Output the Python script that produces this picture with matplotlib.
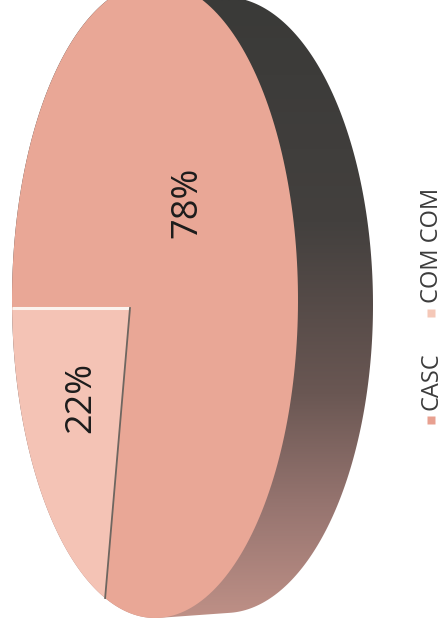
import matplotlib as mpl
mpl.use('agg')

import matplotlib.pyplot as plt
from matplotlib.colors import LinearSegmentedColormap
from matplotlib.patches import Polygon
import numpy as np

# chart data
labels = ['COM COM', 'CASC']
values = [22, 78]
face_colors = ['#f4c3b5', '#e9a796']
legend_order = ['CASC', 'COM COM']
legend_colors = ['#e8a090', '#f5c8b8']

# layout (pixels, y pointing down)
W, H = 443, 635
front = dict(cx=155, cy=300, rx=143, ry=318)
back = dict(cx=225, cy=305, rx=148, ry=308)
vertex = np.array([130.0, 308.0])
start_angle = 180.0


def ellipse_pts(e, t):
    return np.column_stack([e['cx'] + e['rx'] * np.cos(t), e['cy'] - e['ry'] * np.sin(t)])


def hull(pts):
    """ monotone chain convex hull """
    pts = sorted(map(tuple, pts))

    def cross(o, a, b):
        return (a[0] - o[0]) * (b[1] - o[1]) - (a[1] - o[1]) * (b[0] - o[0])

    lower, upper = [], []
    for p in pts:
        while len(lower) >= 2 and cross(lower[-2], lower[-1], p) <= 0:
            lower.pop()
        lower.append(p)
    for p in reversed(pts):
        while len(upper) >= 2 and cross(upper[-2], upper[-1], p) <= 0:
            upper.pop()
        upper.append(p)
    return np.array(lower[:-1] + upper[:-1])


def ray_hit(angle_deg):
    """ where a ray from the vertex (in the squashed pie space) meets the rim """
    a = np.radians(angle_deg)
    d = np.array([np.cos(a) * front['rx'], -np.sin(a) * front['ry']])
    p = vertex - np.array([front['cx'], front['cy']])
    A = (d[0] / front['rx']) ** 2 + (d[1] / front['ry']) ** 2
    B = 2 * (p[0] * d[0] / front['rx'] ** 2 + p[1] * d[1] / front['ry'] ** 2)
    C = (p[0] / front['rx']) ** 2 + (p[1] / front['ry']) ** 2 - 1
    t = (-B + np.sqrt(B * B - 4 * A * C)) / (2 * A)
    q = vertex + t * d
    param = np.degrees(np.arctan2(-(q[1] - front['cy']) / front['ry'],
                                  (q[0] - front['cx']) / front['rx']))
    return q, param


fig = plt.figure(figsize=(W / 100, H / 100), dpi=100)
ax = fig.add_axes([0, 0, 1, 1])

# side of the disc: convex hull of front and back rims, filled with a vertical gradient
t = np.linspace(0, 2 * np.pi, 400)
side = hull(np.vstack([ellipse_pts(front, t), ellipse_pts(back, t)]))
side_patch = Polygon(side, closed=True, facecolor='none', edgecolor='none')
ax.add_patch(side_patch)
side_cmap = LinearSegmentedColormap.from_list(
    'side', [(0, '#3a3a38'), (0.35, '#43403e'), (0.62, '#6a5753'), (0.8, '#977570'), (1, '#c4948a')])
grad = np.linspace(0, 1, 256).reshape(-1, 1)
img = ax.imshow(grad, extent=[0, W, H, 0], cmap=side_cmap, aspect='auto', zorder=1)
img.set_clip_path(side_patch)

# top face wedges
total = float(sum(values))
angles = [start_angle]
for v in values:
    angles.append(angles[-1] + 360.0 * v / total)

for i, (lab, v) in enumerate(zip(labels, values)):
    a0, a1 = angles[i], angles[i + 1]
    _, p0 = ray_hit(a0)
    _, p1 = ray_hit(a1)
    while p1 <= p0:
        p1 += 360
    arc = ellipse_pts(front, np.radians(np.linspace(p0, p1, 200)))
    poly = np.vstack([vertex, arc])
    ax.add_patch(Polygon(poly, closed=True, facecolor=face_colors[i], edgecolor='none', zorder=2))

    mid = np.radians((a0 + a1) / 2)
    frac = 0.44 if v < 50 else 0.52
    pos = vertex + frac * np.array([np.cos(mid) * front['rx'], -np.sin(mid) * front['ry']])
    ax.text(pos[0], pos[1], '{:d}%'.format(v), rotation=90, ha='center', va='center',
            fontsize=26, color='#1c1c1c', family='Open Sans', zorder=4)

# wedge boundaries: highlight on the upper cut, dark seam on the lower one
q_a, _ = ray_hit(angles[0])
q_b, _ = ray_hit(angles[1])
ax.plot([vertex[0], q_a[0]], [vertex[1], q_a[1]], color='#fbf3ee', lw=2.2, zorder=3,
        solid_capstyle='butt')
ax.plot([vertex[0], q_b[0]], [vertex[1], q_b[1]], color='#6e6660', lw=1.3, zorder=3)

# rotated legend
leg_x = 431
leg_y = [420, 313]
for lab, col, y in zip(legend_order, legend_colors, leg_y):
    ax.plot(leg_x, y, marker='s', ms=6, color=col, mec='none', zorder=4)
    ax.text(leg_x + 1, y - 10, lab, rotation=90, rotation_mode='anchor', ha='left', va='center',
            fontsize=17, color='#3c3c3c', family='Open Sans', zorder=4)

ax.set_xlim(0, W)
ax.set_ylim(H, 0)
ax.axis('off')
plt.savefig('out.png', dpi=100)
